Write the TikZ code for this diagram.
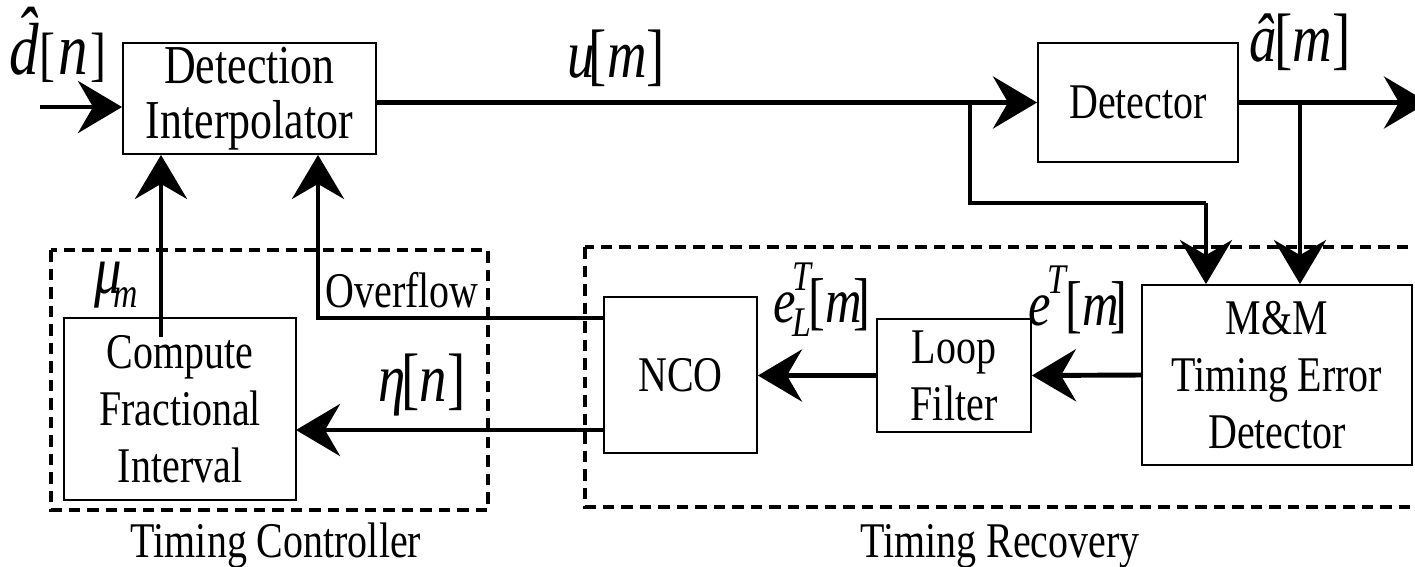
\documentclass[tikz,border=0pt]{standalone}
\usepackage{fontspec}
\setmainfont{Liberation Serif}
\usetikzlibrary{arrows.meta,calc}
\newcommand{\bodyfs}{\fontsize{14.2}{16.2}\selectfont}
\newcommand{\bigfs}{\fontsize{15.6}{15.6}\selectfont}
\newcommand{\labfs}{\fontsize{19.5}{20}\selectfont}
\newcommand{\smallfs}{\fontsize{12}{12}\selectfont}
\newcommand{\sq}[1]{\scalebox{0.8}[1]{#1}}
\begin{document}
\begin{tikzpicture}[x=0.01cm,y=-0.01cm,
  box/.style={draw,line width=0.5pt,inner sep=0pt,align=center,font=\bodyfs},
  conn/.style={line width=1.4pt},
  arr/.style={conn,-{Stealth[length=0.44cm,width=0.52cm,inset=0.15cm]}},
  grp/.style={line width=1.35pt,dash pattern=on 0.115cm off 0.07cm},
  lab/.style={inner sep=0pt},
  txt/.style={inner sep=0pt,font=\bodyfs}]
\useasboundingbox (0,0) rectangle (1415,566);

% blocks
\node[box,font=\bigfs,minimum width=2.53cm,minimum height=1.11cm] (DI) at (249.5,98.5) {\sq{Detection}\\\sq{Interpolator}};
\node[box,minimum width=2.00cm,minimum height=1.19cm] (Det) at (1138,102.5) {\sq{Detector}};
\node[box,minimum width=2.32cm,minimum height=1.82cm] (CFI) at (180,409) {\sq{Compute}\\\sq{Fractional}\\\sq{Interval}};
\node[box,minimum width=1.53cm,minimum height=1.56cm] (NCO) at (680.5,375) {\sq{NCO}};
\node[box,minimum width=1.54cm,minimum height=1.13cm] (LF) at (954,375.5) {\sq{Loop}\\\sq{Filter}};
\node[box,minimum width=2.70cm,minimum height=1.80cm] (MM) at (1277,375) {\sq{M\&M}\\\sq{Timing Error}\\\sq{Detector}};

% dashed groups
\draw[grp] (51,250) rectangle (488,510);
\draw[grp] (585,247) rectangle (1440,507);
\node[txt,anchor=base] (tcl) at (276,557) {\sq{Timing Controller}};
\node[txt,anchor=base] (trl) at (1000,557) {\sq{Timing Recovery}};

% coordinates
\coordinate (in) at (40,107);
\coordinate (out) at (1428,102.5);
\coordinate (b1) at (970,102.5);
\coordinate (b1c) at (1206,203);
\coordinate (b2) at (1300,102.5);
\coordinate (mu0) at (161,337);
\coordinate (ov) at (318,318);
\coordinate (eta) at (296,430);

% connectors
\draw[arr] (in) -- (DI.west |- in);
\draw[arr] (DI.east |- Det.west) -- (Det.west);
\draw[arr] (Det.east) -- (out);
\draw[conn] (b1) |- (b1c);
\draw[arr] (b1c) -- (b1c |- MM.north);
\draw[arr] (b2) -- (b2 |- MM.north);
\draw[arr] (MM.west) -- (LF.east);
\draw[arr] (LF.west) -- (NCO.east |- LF.west);
\draw[arr] (NCO.west |- eta) -- (eta);
\draw[arr] (NCO.west |- ov) -- (ov) -- (ov |- DI.south);
\draw[arr] (mu0) -- (mu0 |- DI.south);

% labels
\node[lab] (ld) at (58,45) {\sq{\fontsize{21}{21}\selectfont\textit{d}\llap{\raisebox{0.22em}{\textit{ˆ}}\kern0.02em}{\fontsize{17}{17}\selectfont[}\kern1pt\textit{n}\kern1pt{\fontsize{17}{17}\selectfont]}}};
\node[lab] (lu) at (616,58) {\sq{\labfs\textit{u}\kern-2pt[\textit{m}]}};
\node[lab] (la) at (1300,42) {\sq{\labfs\textit{â}\kern-1pt[\textit{m}]}};
\node[lab] (lmu) at (116,285) {\sq{\labfs\textit{μ}\kern-3pt\raisebox{-4pt}{\smallfs\textit{m}}}};
\node[txt] (lov) at (402,290) {\sq{Overflow}};
\node[lab] (leta) at (422,385) {\sq{\labfs\textit{η}\kern-1.5pt[\textit{n}]}};
\node[lab] (leL) at (822,300) {\sq{\fontsize{18}{18}\selectfont\textit{e}\kern-1pt\rlap{\raisebox{9pt}{\smallfs\textit{T}}}\raisebox{-4pt}{\smallfs\textit{L}}\kern-1pt[\textit{m}\kern-3pt]}};
\node[lab] (le) at (1078,300) {\sq{\fontsize{18}{18}\selectfont\textit{e}\kern-1pt\raisebox{9pt}{\smallfs\textit{T}}\kern-1pt[\textit{m}\kern-3pt]}};
\end{tikzpicture}
\end{document}
